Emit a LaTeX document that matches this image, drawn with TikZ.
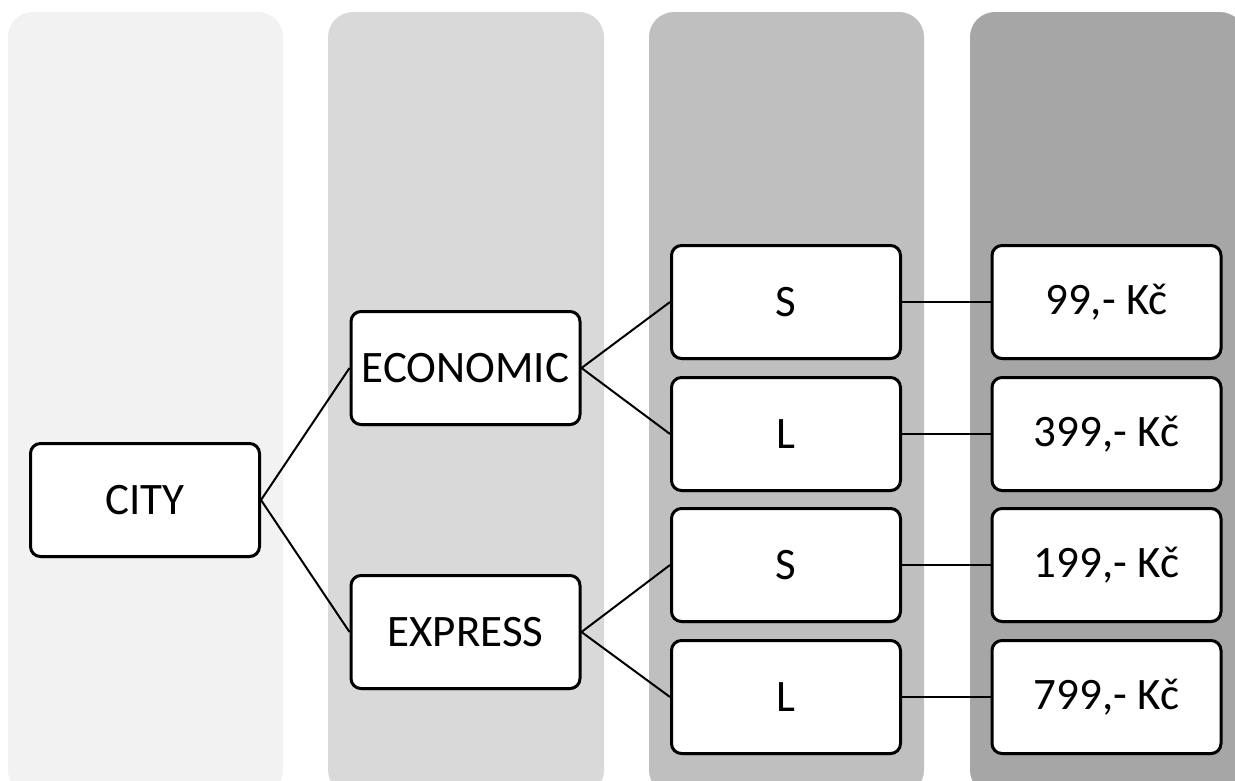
\documentclass[tikz,border=0pt]{standalone}
\usepackage{fontspec}
\setmainfont{Carlito}
\usetikzlibrary{shadows}
\definecolor{colA}{HTML}{F2F2F2}
\definecolor{colB}{HTML}{D9D9D9}
\definecolor{colC}{HTML}{BFBFBF}
\definecolor{colD}{HTML}{A6A6A6}
\tikzset{
  column/.style={rounded corners=25pt},
  box/.style={draw=black, line width=3pt, fill=white, rounded corners=10pt,
    minimum width=229pt, minimum height=113pt, inner sep=0pt,
    font=\fontsize{45}{52}\selectfont,
    drop shadow={shadow xshift=0.5pt, shadow yshift=-1.5pt, fill=black, opacity=0.5}},
  link/.style={draw=black, line width=2pt}
}
\begin{document}
\begin{tikzpicture}[x=1pt,y=-1pt]
\useasboundingbox (0,0) rectangle (1235,780);
\begin{scope}
\clip (0,0) rectangle (1235,780);
\fill[colA, column] (8,12) rectangle (283,795);
\fill[colB, column] (328,12) rectangle (604,795);
\fill[colC, column] (649,12) rectangle (924,795);
\fill[colD, column] (970,12) rectangle (1245,795);
\end{scope}
\node[box] (city) at (145,500) {CITY};
\node[box] (eco) at (465.5,368) {ECONOMIC};
\node[box] (exp) at (465.5,632) {EXPRESS};
\node[box] (s1) at (786,302) {S};
\node[box] (l1) at (786,434) {L};
\node[box] (s2) at (786,565) {S};
\node[box] (l2) at (786,697) {L};
\node[box] (p1) at (1106.5,302) {99,- Kč};
\node[box] (p2) at (1106.5,434) {399,- Kč};
\node[box] (p3) at (1106.5,565) {199,- Kč};
\node[box] (p4) at (1106.5,697) {799,- Kč};
\draw[link] (city.east) -- (eco.west);
\draw[link] (city.east) -- (exp.west);
\draw[link] (eco.east) -- (s1.west);
\draw[link] (eco.east) -- (l1.west);
\draw[link] (exp.east) -- (s2.west);
\draw[link] (exp.east) -- (l2.west);
\draw[link] (s1.east) -- (p1.west);
\draw[link] (l1.east) -- (p2.west);
\draw[link] (s2.east) -- (p3.west);
\draw[link] (l2.east) -- (p4.west);
\end{tikzpicture}
\end{document}
